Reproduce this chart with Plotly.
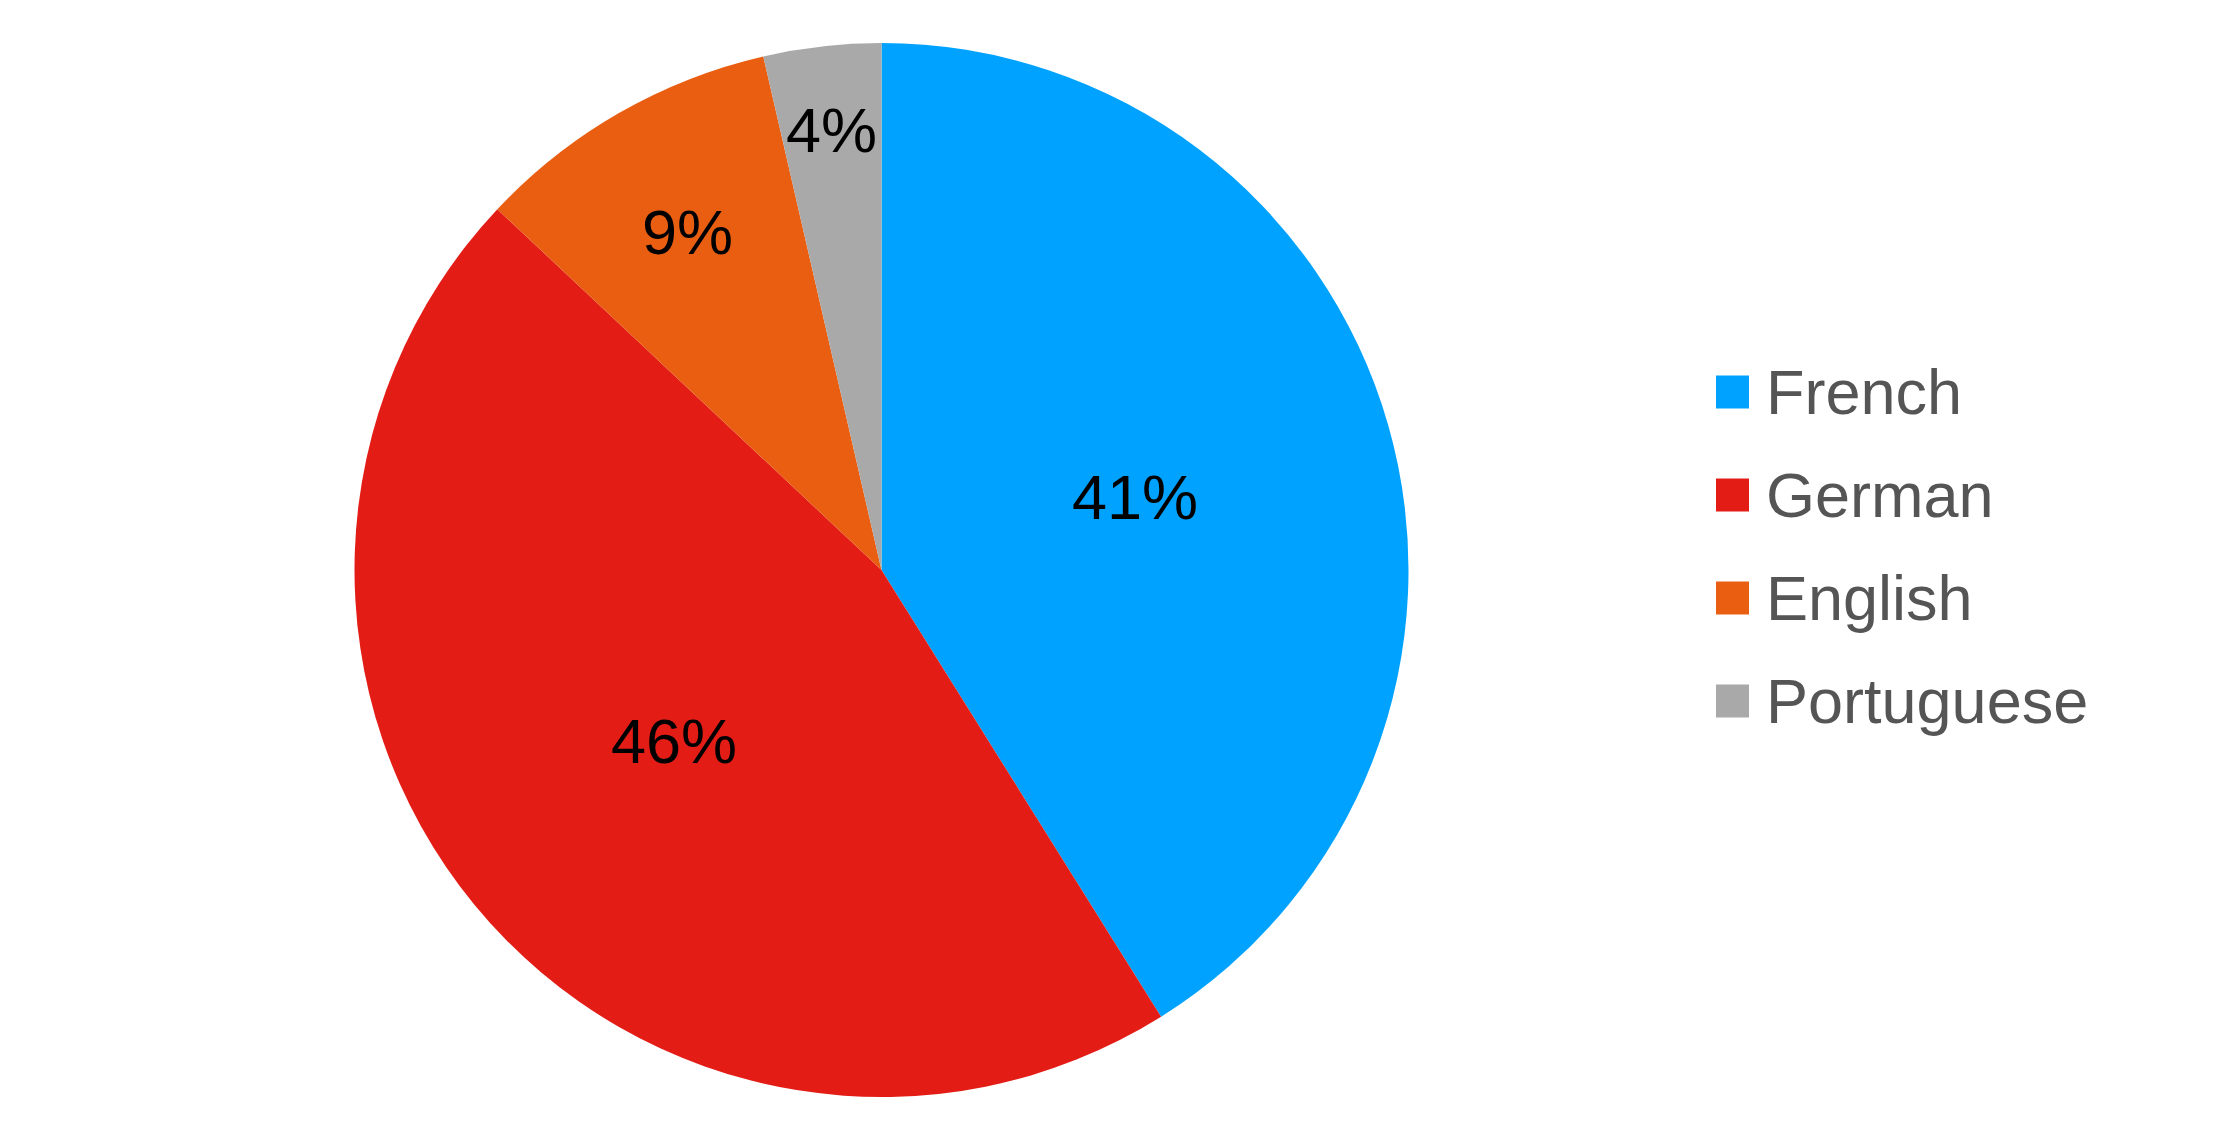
import math
import plotly.graph_objects as go

labels = ["French", "German", "English", "Portuguese"]
values = [41.1, 45.9, 9.4, 3.6]
colors = ["#00A2FF", "#E31C16", "#EA5E12", "#A9A9A9"]
text_labels = ["41%", "46%", "9%", "4%"]
label_radius = [0.50, 0.51, 0.74, 0.84]  # fraction of pie radius for label placement

OFF = 8  # page body margin
W, H = 2238 - OFF, 1133 - OFF
FONT = "Liberation Sans, Helvetica, Arial, sans-serif"

# pie box in figure pixels
px0, px1 = 354 - OFF, 1409 - OFF
py0, py1 = 43 - OFF, 1097 - OFF
cx, cy = (px0 + px1) / 2, (py0 + py1) / 2
R = (px1 - px0) / 2

fig = go.Figure(go.Pie(
    labels=labels, values=values, sort=False, direction="clockwise", rotation=0,
    marker=dict(colors=colors, line=dict(width=0)),
    textinfo="none", showlegend=False, hoverinfo="label+percent",
    domain=dict(x=[px0 / W, px1 / W], y=[1 - py1 / H, 1 - py0 / H]),
))

# slice labels at mid-angles derived from the data
total = sum(values)
cum = 0.0
for v, t, f in zip(values, text_labels, label_radius):
    mid = (cum + v / 2) / total * 2 * math.pi
    cum += v
    x = cx + f * R * math.sin(mid)
    y = cy - f * R * math.cos(mid)
    fig.add_annotation(xref="paper", yref="paper", x=x / W, y=1 - y / H,
                       text=t, showarrow=False, xanchor="center", yanchor="middle",
                       font=dict(family=FONT, size=63, color="black"))

# custom legend
leg_x0, leg_y0, leg_dy, sq = 1716 - OFF, 392 - OFF, 103, 33
for i, (lab, col) in enumerate(zip(labels, colors)):
    ly = leg_y0 + i * leg_dy
    fig.add_shape(type="rect", xref="paper", yref="paper",
                  x0=leg_x0 / W, x1=(leg_x0 + sq) / W,
                  y0=1 - (ly + sq / 2) / H, y1=1 - (ly - sq / 2) / H,
                  fillcolor=col, line=dict(width=0))
    fig.add_annotation(xref="paper", yref="paper", x=(1764 - OFF) / W, y=1 - ly / H,
                       text=lab, showarrow=False, xanchor="left", yanchor="middle",
                       font=dict(family=FONT, size=63, color="#555555"))

fig.update_layout(width=W, height=H, margin=dict(l=0, r=0, t=0, b=0),
                  paper_bgcolor="white", plot_bgcolor="white")
fig.write_html("out.html")
